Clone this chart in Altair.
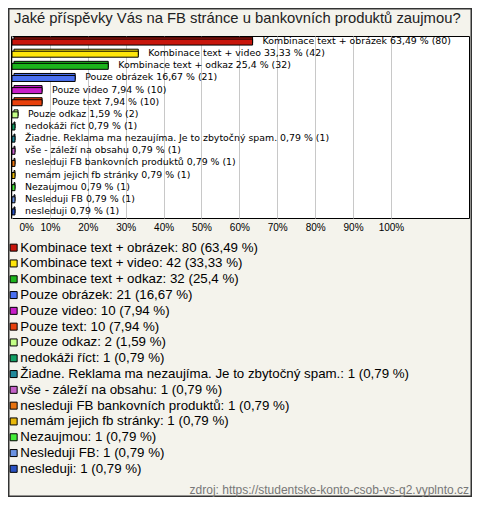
import altair as alt
import pandas as pd

title_text = "Jaké příspěvky Vás na FB stránce u bankovních produktů zaujmou?"
source_text = "zdroj: https://studentske-konto-csob-vs-g2.vyplnto.cz"

names = [
    "Kombinace text + obrázek",
    "Kombinace text + video",
    "Kombinace text + odkaz",
    "Pouze obrázek",
    "Pouze video",
    "Pouze text",
    "Pouze odkaz",
    "nedokáži říct",
    "Žiadne. Reklama ma nezaujíma. Je to zbytočný spam.",
    "vše - záleží na obsahu",
    "nesleduji FB bankovních produktů",
    "nemám jejich fb stránky",
    "Nezaujmou",
    "Nesleduji FB",
    "nesleduji",
]
counts = [80, 42, 32, 21, 10, 10, 2, 1, 1, 1, 1, 1, 1, 1, 1]
pcts = [63.49, 33.33, 25.4, 16.67, 7.94, 7.94, 1.59, 0.79, 0.79, 0.79, 0.79, 0.79, 0.79, 0.79, 0.79]
colors = [
    "#c8160c", "#ffe60a", "#1cb41c", "#4a70f0", "#c81ec8", "#e8400c", "#c4ff86",
    "#12a064", "#228a9c", "#c462c8", "#e8720e", "#e8b80a", "#44ee38", "#6a92e2", "#2a52c2",
]
tick_values = [0, 10, 20, 30, 40, 50, 60, 70, 80, 90, 100]


def fmt(p):
    return f"{p:g}".replace(".", ",")


bar_labels = [f"{n} {fmt(p)} % ({c})" for n, c, p in zip(names, counts, pcts)]
legend_labels = [f"{n}: {c} ({fmt(p)} %)" for n, c, p in zip(names, counts, pcts)]

df = pd.DataFrame({
    "name": names,
    "count": counts,
    "pct": pcts,
    "base": [0] * len(names),
    "bar_label": bar_labels,
    "legend_label": legend_labels,
})

FONT = "Liberation Sans"

xscale = alt.Scale(domain=[-0.26, 120.6], nice=False, zero=False)
yenc = alt.Y("name:N", sort=names, scale=alt.Scale(paddingInner=0, paddingOuter=0), axis=None)
color = alt.Color(
    "legend_label:N",
    scale=alt.Scale(domain=legend_labels, range=colors),
    legend=alt.Legend(
        title=None,
        orient="none",
        legendX=-4,
        legendY=205,
        direction="vertical",
        symbolType="square",
        symbolSize=49,
        symbolStrokeColor="#000",
        symbolStrokeWidth=1,
        labelFontSize=13.3,
        labelFont=FONT,
        labelColor="#000",
        labelOffset=0,
        rowPadding=1.8,
        labelLimit=0,
        padding=0,
    ),
)

base = alt.Chart(df)

xaxis = alt.Axis(
    values=tick_values,
    labelExpr="datum.value + '%'",
    domain=False,
    ticks=False,
    labelFontSize=10,
    labelFont=FONT,
    labelColor="#000",
    labelPadding=4,
    gridColor="#c8c8c8",
    title=None,
    labelFlush=3,
    labelFlushOffset=-7,
)

shadow = base.mark_bar(size=6, xOffset=2, yOffset=-2, stroke="#000", strokeWidth=1).encode(
    x=alt.X("base:Q", scale=xscale, axis=xaxis),
    x2="pct:Q",
    y=yenc,
    color=color,
)
bars = base.mark_bar(size=6, stroke="#000", strokeWidth=1).encode(
    x=alt.X("base:Q", scale=xscale, axis=xaxis),
    x2="pct:Q",
    y=yenc,
    color=color,
)
labels = base.mark_text(align="left", baseline="middle", dx=10, dy=-1, fontSize=9.4, font="DejaVu Sans", color="#000").encode(
    x=alt.X("pct:Q", scale=xscale),
    y=yenc,
    text="bar_label:N",
)

src_df = pd.DataFrame({"t": [source_text], "title": [title_text]})
source = alt.Chart(src_df).mark_text(align="right", baseline="middle", fontSize=12, font=FONT, color="#777").encode(
    x=alt.value(458), y=alt.value(454), text="t:N"
)
title = alt.Chart(src_df).mark_text(align="left", baseline="middle", fontSize=14.8, font=FONT, color="#222").encode(
    x=alt.value(3), y=alt.value(-17), text="title:N"
)
border = alt.Chart(src_df).mark_rect(fillOpacity=0, stroke="#333", strokeWidth=1.5).encode(
    x=alt.value(-2.25), x2=alt.value(460.25), y=alt.value(-27.25), y2=alt.value(460.25)
)

chart = alt.layer(border, shadow, bars, labels, source, title).properties(
    width=458,
    height=182,
    autosize=alt.AutoSizeParams(type="none"),
    padding={"left": 3, "top": 28, "right": 3, "bottom": 279},
    background="#f4f3ec",
).configure_view(stroke="#000", strokeWidth=1, fill="#fff")

chart.save("out.html", embed_options={"renderer": "svg", "actions": False})
